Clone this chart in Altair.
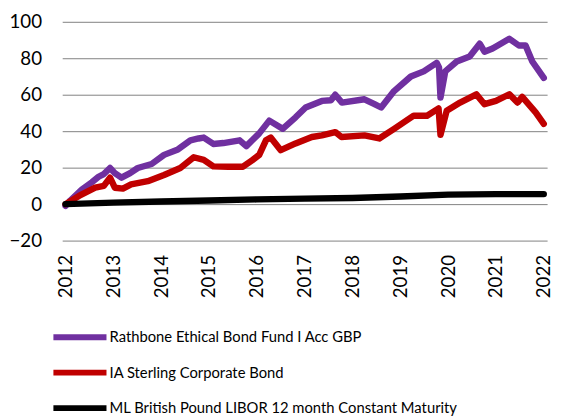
import altair as alt
import pandas as pd

series_names = [
    "Rathbone Ethical Bond Fund I Acc GBP",
    "IA Sterling Corporate Bond",
    "ML British Pound LIBOR 12 month Constant Maturity",
]
series_colors = ["#7030A0", "#C00000", "#000000"]

rb_t = [2012.00, 2012.10, 2012.34, 2012.55, 2012.69, 2012.80, 2012.93, 2013.03, 2013.17,
        2013.35, 2013.51, 2013.80, 2014.06, 2014.35, 2014.61, 2014.78, 2014.89, 2015.09,
        2015.30, 2015.64, 2015.78, 2016.05, 2016.26, 2016.54, 2016.81, 2017.02, 2017.36,
        2017.55, 2017.64, 2017.78, 2018.25, 2018.45, 2018.60, 2018.87, 2019.22, 2019.49,
        2019.76, 2019.81, 2019.84, 2019.94, 2020.18, 2020.45, 2020.66, 2020.76, 2020.93,
        2021.28, 2021.48, 2021.62, 2021.76, 2022.00]
rb_v = [-1.0, 2.0, 8.0, 12.0, 15.0, 16.5, 19.8, 17.0, 14.5,
        17.0, 19.8, 22.0, 27.0, 30.0, 35.0, 36.0, 36.5, 33.0,
        33.5, 35.0, 31.8, 38.8, 45.8, 41.3, 47.6, 53.0, 56.6,
        57.0, 60.0, 55.7, 57.5, 55.0, 53.0, 62.0, 70.0, 72.8,
        77.5, 75.0, 58.4, 72.8, 78.2, 81.0, 88.0, 83.6, 85.4,
        90.7, 87.0, 87.0, 78.2, 69.2]

ia_t = [2012.00, 2012.28, 2012.62, 2012.80, 2012.93, 2013.03, 2013.20, 2013.37, 2013.72,
        2014.06, 2014.40, 2014.68, 2014.89, 2015.09, 2015.40, 2015.71, 2015.90, 2016.05,
        2016.19, 2016.29, 2016.50, 2016.81, 2017.15, 2017.36, 2017.64, 2017.77, 2018.25,
        2018.56, 2018.87, 2019.28, 2019.56, 2019.80, 2019.84, 2019.97, 2020.25, 2020.59,
        2020.76, 2021.00, 2021.28, 2021.45, 2021.55, 2021.83, 2022.00]
ia_v = [0.0, 4.5, 9.0, 10.0, 14.5, 9.0, 8.5, 10.8, 12.6,
        16.0, 19.8, 25.7, 24.3, 20.7, 20.5, 20.5, 24.0, 27.0,
        35.0, 36.5, 29.6, 33.3, 36.8, 37.7, 39.5, 36.8, 37.7,
        36.0, 41.3, 48.5, 48.5, 52.5, 38.0, 51.2, 55.7, 60.2,
        54.8, 56.6, 60.2, 55.7, 58.8, 50.3, 44.0]

ml_t = [2012.0, 2013.0, 2014.0, 2015.0, 2016.0, 2017.0, 2018.0, 2019.0, 2020.0, 2021.0, 2022.0]
ml_v = [0.0, 0.8, 1.4, 2.0, 2.6, 3.0, 3.4, 4.2, 5.2, 5.5, 5.5]

year_ticks = list(range(2012, 2023))
y_ticks = [-20, 0, 20, 40, 60, 80, 100]

rows = []
for name, ts, vs in zip(series_names, [rb_t, ia_t, ml_t], [rb_v, ia_v, ml_v]):
    for i, (t, v) in enumerate(zip(ts, vs)):
        rows.append({"series": name, "t": t, "v": v, "order": i})
df = pd.DataFrame(rows)

font = "Lato"

chart = alt.Chart(df).mark_line(
    strokeWidth=6.5, strokeCap="round", strokeJoin="round"
).encode(
    x=alt.X("t:Q", scale=alt.Scale(domain=[2011.93, 2022.07], nice=False, zero=False),
            axis=alt.Axis(values=year_ticks, format="d", labelAngle=270, grid=False,
                          domain=False, ticks=False, labelPadding=14, labelFontSize=19,
                          labelFont=font, labelColor="#000000", title=None,
                          labelOverlap=False, labelFlush=False)),
    y=alt.Y("v:Q", scale=alt.Scale(domain=[-20, 100], nice=False),
            axis=alt.Axis(values=y_ticks, grid=True, gridColor="#808080", gridWidth=1,
                          domain=False, ticks=False, labelPadding=21, labelFontSize=19,
                          labelFont=font, labelColor="#000000", title=None)),
    color=alt.Color("series:N", sort=series_names,
                    scale=alt.Scale(domain=series_names, range=series_colors),
                    legend=alt.Legend(orient="none", legendX=-12, legendY=311,
                                      direction="vertical", symbolType="stroke",
                                      symbolSize=2900, symbolStrokeWidth=6,
                                      clipHeight=18, rowPadding=18,
                                      labelFontSize=15, labelFont=font,
                                      labelColor="#000000", labelLimit=500, padding=0,
                                      labelOffset=0, title=None)),
    order="order:Q",
).properties(
    width=492, height=222,
    padding={"left": 55, "top": 11, "right": 8, "bottom": 176},
    autosize=alt.AutoSizeParams(type="none"),
).configure_view(stroke=None)

chart.save("out.html", embed_options={"renderer": "svg", "actions": False})
